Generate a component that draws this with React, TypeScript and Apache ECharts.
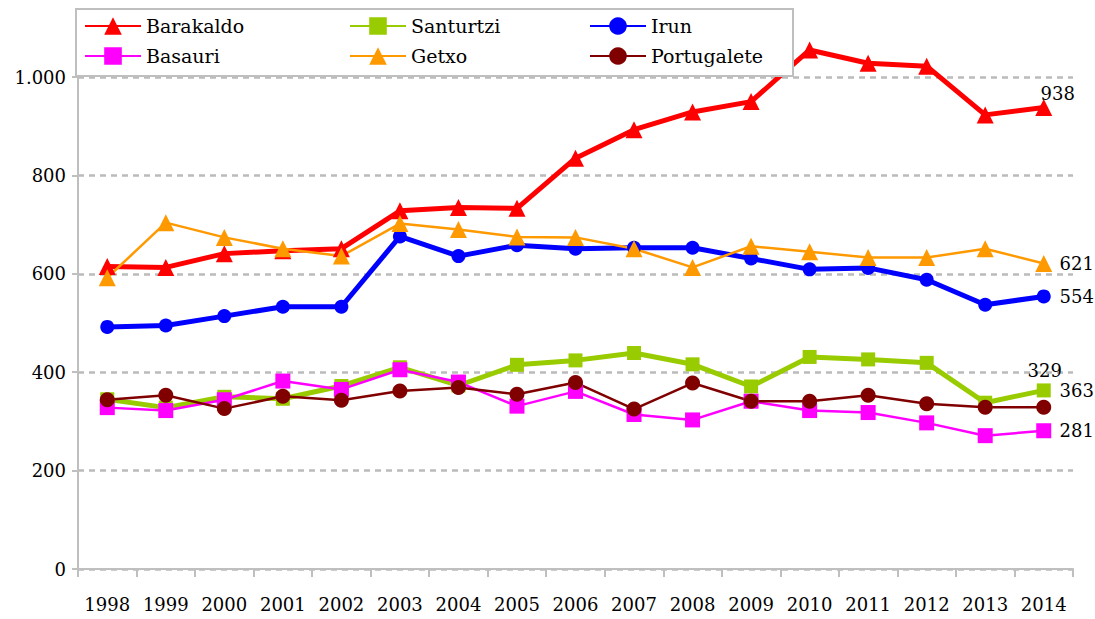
import React, { useEffect, useRef } from "react";
import * as echarts from "echarts";

const years = ["1998","1999","2000","2001","2002","2003","2004","2005","2006","2007","2008","2009","2010","2011","2012","2013","2014"];
const barakaldo = [615, 613, 641, 647, 651, 728, 735, 733, 835, 893, 929, 950, 1055, 1028, 1022, 923, 938];
const santurtzi = [345, 328, 350, 346, 372, 410, 373, 415, 424, 439, 416, 371, 431, 426, 419, 338, 363];
const irun = [492, 495, 514, 533, 533, 676, 636, 658, 651, 653, 653, 631, 609, 612, 588, 537, 554];
const basauri = [328, 322, 344, 382, 365, 405, 380, 331, 361, 314, 303, 341, 322, 318, 297, 271, 281];
const getxo = [592, 704, 674, 651, 636, 702, 690, 675, 674, 651, 613, 656, 645, 633, 633, 651, 621];
const portugalete = [344, 353, 326, 351, 343, 362, 369, 355, 379, 325, 378, 341, 341, 353, 336, 329, 329];
const yTicks = [0, 200, 400, 600, 800, 1000];

const FONT = "DejaVu Serif";
const FS = 18;

function fmt(v: number): string {
  if (v >= 1000) return Math.floor(v / 1000) + "." + String(v % 1000).padStart(3, "0");
  return String(v);
}

function withEndLabel(arr: number[], offset: number[]) {
  return arr.map((v, i) =>
    i === arr.length - 1
      ? {
          value: v,
          label: {
            show: true,
            position: "inside",
            offset,
            formatter: String(v),
            color: "#000",
            fontFamily: FONT,
            fontSize: FS,
          },
        }
      : v
  );
}

export default function App() {
  const ref = useRef<HTMLDivElement>(null);
  useEffect(() => {
    if (!ref.current) return;
    const chart = echarts.init(ref.current, null, { renderer: "svg" });
    const mk = (
      name: string,
      data: number[],
      color: string,
      width: number,
      symbol: string,
      size: number,
      offset: number[]
    ) => ({
      name,
      type: "line",
      data: withEndLabel(data, offset),
      clip: false,
      symbol,
      symbolSize: size,
      showAllSymbol: true,
      lineStyle: { color, width },
      itemStyle: { color },
      label: { show: false },
      emphasis: { disabled: true },
    });
    const legendCommon = {
      orient: "vertical",
      top: 13,
      padding: 0,
      itemGap: 4,
      itemWidth: 56,
      itemHeight: 22,
      selectedMode: false,
      z: 10,
      textStyle: { fontFamily: FONT, fontSize: 19, color: "#000", lineHeight: 26 },
    };
    chart.setOption({
      animation: false,
      backgroundColor: "#fff",
      textStyle: { fontFamily: FONT },
      grid: { left: 78, right: 22, top: 77, bottom: 50, containLabel: false },
      xAxis: {
        type: "category",
        data: years,
        boundaryGap: true,
        axisLine: { lineStyle: { color: "#BFBFBF", width: 2 } },
        axisTick: { show: true, interval: 0, length: 8, lineStyle: { color: "#BFBFBF", width: 2 } },
        axisLabel: { interval: 0, margin: 26, color: "#000", fontFamily: FONT, fontSize: FS },
        splitLine: { show: false },
      },
      yAxis: {
        type: "value",
        min: yTicks[0],
        max: yTicks[yTicks.length - 1],
        interval: 200,
        axisLine: { show: true, lineStyle: { color: "#BFBFBF", width: 2 } },
        axisTick: { show: true, length: 6, lineStyle: { color: "#BFBFBF", width: 2 } },
        axisLabel: { margin: 12, color: "#000", fontFamily: FONT, fontSize: FS, formatter: (v: number) => fmt(v) },
        splitLine: { show: true, lineStyle: { color: "#BBBBBB", width: 2.5, type: [6, 5] } },
      },
      legend: [
        { ...legendCommon, left: 84, data: ["Barakaldo", "Basauri"] },
        { ...legendCommon, left: 349, data: ["Santurtzi", "Getxo"] },
        { ...legendCommon, left: 589, data: ["Irun", "Portugalete"] },
      ],
      graphic: [
        {
          type: "rect",
          z: 5,
          shape: { x: 76, y: 9, width: 717, height: 67 },
          style: { fill: "#fff", stroke: "#BFBFBF", lineWidth: 2 },
        },
      ],
      series: [
        mk("Barakaldo", barakaldo, "#FF0000", 5, "triangle", 17, [14, -14]),
        mk("Santurtzi", santurtzi, "#99CC00", 5, "rect", 14, [33, 0]),
        mk("Irun", irun, "#0000FF", 5, "circle", 14, [33, 0]),
        mk("Basauri", basauri, "#FF00FF", 2.5, "rect", 15, [33, 0]),
        mk("Getxo", getxo, "#FF9900", 2.5, "triangle", 17, [33, 0]),
        mk("Portugalete", portugalete, "#800000", 2.5, "circle", 15, [1, -37]),
      ],
    });
    return () => chart.dispose();
  }, []);
  return (
    <div
      ref={ref}
      style={{ position: "absolute", left: 0, top: 0, width: 1095, height: 619, background: "#fff" }}
    />
  );
}
